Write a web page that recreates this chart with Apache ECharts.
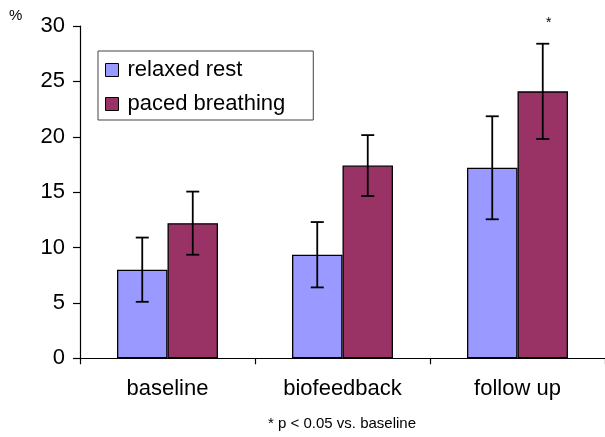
<!DOCTYPE html>
<html>
<head>
<meta charset="utf-8">
<script src="https://cdn.jsdelivr.net/npm/echarts@6/dist/echarts.min.js"></script>
<style>
html,body{margin:0;padding:0;background:#fff;}
#chart{width:605px;height:437px;}
</style>
</head>
<body>
<div id="chart"></div>
<script>
const categories = ['baseline', 'biofeedback', 'follow up'];
const seriesNames = ['relaxed rest', 'paced breathing'];
const relaxedRest = [8.0, 9.35, 17.2];
const relaxedErr = [2.9, 2.95, 4.65];
const pacedBreathing = [12.2, 17.4, 24.1];
const pacedErr = [2.85, 2.75, 4.3];
const pacedSignificance = ['', '', '*'];
const yMin = 0, yMax = 30, yStep = 5;
const footnote = '* p < 0.05 vs. baseline';
const yUnit = '%';

const FONT = 'Liberation Sans, Arial, sans-serif';
const BAR_W = 50.5;
const COLORS = ['#9999FF', '#993366'];

const errData = [];
categories.forEach((c, i) => {
  errData.push([i, relaxedRest[i], relaxedErr[i], -1, '']);
  errData.push([i, pacedBreathing[i], pacedErr[i], 1, pacedSignificance[i]]);
});

const chart = echarts.init(document.getElementById('chart'), null, {renderer: 'canvas'});
chart.setOption({
  animation: false,
  backgroundColor: '#fff',
  textStyle: {fontFamily: FONT},
  grid: [
    {left: 80, right: 0, top: 26, bottom: 78.7, containLabel: false}
  ],
  legend: {
    data: seriesNames,
    orient: 'vertical',
    left: 98,
    top: 51,
    padding: [8, 28, 5, 7],
    itemWidth: 13,
    itemHeight: 13,
    itemGap: 12,
    borderColor: '#444',
    borderWidth: 1,
    textStyle: {fontSize: 22, color: '#000', fontFamily: FONT, lineHeight: 22, padding: [0, 0, 0, 4]},
    icon: 'rect',
    itemStyle: {borderColor: '#000', borderWidth: 1}
  },
  xAxis: {
    type: 'category',
    data: categories,
    axisLine: {lineStyle: {color: '#000', width: 1.2}},
    axisTick: {show: true, length: 6, lineStyle: {color: '#000', width: 1.2}},
    axisLabel: {fontSize: 22, color: '#000', margin: 20, fontFamily: FONT},
    splitLine: {show: false}
  },
  yAxis: {
    type: 'value',
    min: yMin, max: yMax, interval: yStep,
    axisLine: {show: true, lineStyle: {color: '#000', width: 1.2}},
    axisTick: {show: true, length: 7, lineStyle: {color: '#000', width: 1.2}},
    axisLabel: {fontSize: 22, color: '#000', margin: 15, fontFamily: FONT},
    splitLine: {show: false}
  },
  series: [
    {
      name: seriesNames[0], type: 'bar', data: relaxedRest,
      barWidth: BAR_W, barGap: '0%',
      itemStyle: {color: COLORS[0], borderColor: '#000', borderWidth: 1.3},
      z: 2
    },
    {
      name: seriesNames[1], type: 'bar', data: pacedBreathing,
      barWidth: BAR_W, barGap: '0%',
      itemStyle: {color: COLORS[1], borderColor: '#000', borderWidth: 1.3},
      z: 2
    },
    {
      type: 'custom',
      data: errData,
      encode: {x: 0, y: 1},
      clip: false,
      z: 5,
      silent: true,
      renderItem: function (params, api) {
        const idx = api.value(0);
        const v = api.value(1);
        const e = api.value(2);
        const side = api.value(3);
        const sig = errData[params.dataIndex][4];
        const hi = api.coord([idx, v + e]);
        const lo = api.coord([idx, v - e]);
        const x = hi[0] + side * BAR_W / 2;
        const cap = 6.5;
        const style = {stroke: '#000', lineWidth: 1.8};
        const children = [
          {type: 'line', shape: {x1: x, y1: hi[1], x2: x, y2: lo[1]}, style: style},
          {type: 'line', shape: {x1: x - cap, y1: hi[1], x2: x + cap, y2: hi[1]}, style: style},
          {type: 'line', shape: {x1: x - cap, y1: lo[1], x2: x + cap, y2: lo[1]}, style: style}
        ];
        if (sig) {
          children.push({
            type: 'text',
            style: {text: sig, x: x + 6, y: hi[1] - 21, align: 'center', verticalAlign: 'middle',
              fontSize: 14, fontFamily: FONT, fill: '#000'}
          });
        }
        return {type: 'group', children: children};
      }
    }
  ],
  graphic: [
    {type: 'text', left: 9, top: 8, style: {text: yUnit, fontSize: 15, fontFamily: FONT, fill: '#000'}},
    {type: 'text', x: 342, y: 424, style: {text: footnote, fontSize: 15, fontFamily: FONT, fill: '#000', align: 'center', verticalAlign: 'middle'}}
  ]
});
</script>
</body>
</html>
